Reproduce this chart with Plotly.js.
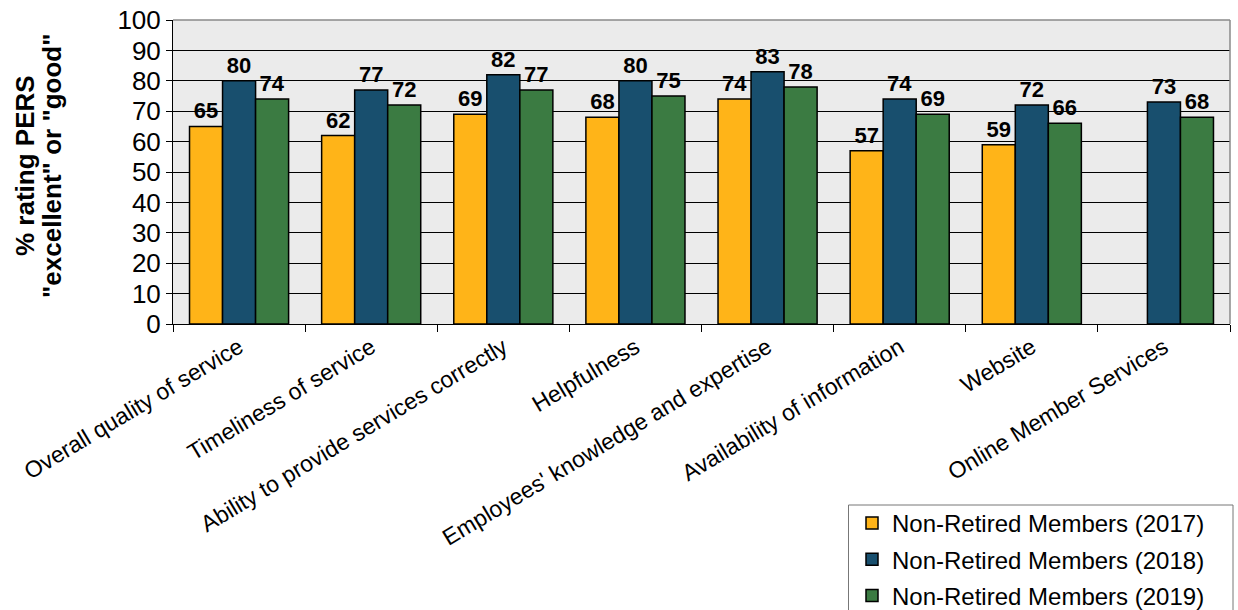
<!DOCTYPE html>
<html>
<head>
<meta charset="utf-8">
<script src="https://cdn.plot.ly/plotly-3.0.1.min.js"></script>
<style>html,body{margin:0;padding:0;background:#fff;}#chart{width:1238px;height:610px;}</style>
</head>
<body>
<div id="chart"></div>
<script>
const categories = [
  "Overall quality of service",
  "Timeliness of service",
  "Ability to provide services correctly",
  "Helpfulness",
  "Employees' knowledge and expertise",
  "Availability of information",
  "Website",
  "Online Member Services"
];
const seriesNames = ["Non-Retired Members (2017)", "Non-Retired Members (2018)", "Non-Retired Members (2019)"];
const values2017 = [65, 62, 69, 68, 74, 57, 59, null];
const values2018 = [80, 77, 82, 80, 83, 74, 72, 73];
const values2019 = [74, 72, 77, 75, 78, 69, 66, 68];
const yTitleLines = ["% rating PERS", "\"excellent\" or \"good\""];
const colors = ["#FFB418", "#184F6E", "#3B7B42"];

const allValues = [values2017, values2018, values2019];
const traces = allValues.map((vals, i) => ({
  type: "bar",
  name: seriesNames[i],
  legendgroup: "g" + i,
  x: categories,
  y: vals,
  text: vals.map(v => v == null ? "" : String(v)),
  textposition: "outside",
  cliponaxis: false,
  textfont: {family: "Liberation Sans, Arial, sans-serif", size: 22, color: "#000"},
  texttemplate: "<b>%{text}</b>",
  marker: {color: colors[i], line: {color: "#000", width: 1.5}},
  hoverinfo: "x+y"
}));

const plotL = 173, plotR = 1230, plotT = 20, plotB = 324;
const pw = plotR - plotL, ph = plotB - plotT;
const px = v => (v - plotL) / pw;
const py = v => (plotB - v) / ph;

const layout = {
  width: 1238, height: 610,
  margin: {l: plotL, r: 1238 - plotR, t: plotT, b: 610 - plotB, autoexpand: false},
  paper_bgcolor: "#fff",
  plot_bgcolor: "#EBEBEB",
  font: {family: "Liberation Sans, Arial, sans-serif", color: "#000"},
  barmode: "group",
  bargap: 0.25,
  bargroupgap: 0,
  showlegend: true,
  legend: {
    x: px(852), xanchor: "left", y: py(501), yanchor: "top",
    bgcolor: "rgba(0,0,0,0)", borderwidth: 0,
    font: {size: 24, color: "#000"},
    itemwidth: 30,
    traceorder: "grouped", tracegroupgap: 2
  },
  xaxis: {
    type: "category",
    tickson: "boundaries",
    ticks: "outside", ticklen: 7, tickcolor: "#000", tickwidth: 1,
    showline: true, linecolor: "#000", linewidth: 1,
    tickangle: -31,
    tickfont: {size: 23, color: "#000"},
    showgrid: false,
    automargin: false
  },
  yaxis: {
    range: [0, 100],
    dtick: 10,
    ticks: "outside", ticklen: 6, tickcolor: "#000",
    showline: true, linecolor: "#000", linewidth: 1,
    showgrid: true, gridcolor: "#000", gridwidth: 1,
    zeroline: false,
    tickfont: {size: 26, color: "#000"},
    automargin: false
  },
  annotations: [
    {text: "<b>" + yTitleLines[0] + "</b>", xref: "paper", yref: "paper",
     x: px(25), y: py(166), xanchor: "center", yanchor: "middle",
     textangle: -90, showarrow: false, font: {size: 26, color: "#000"}},
    {text: "<b>" + yTitleLines[1] + "</b>", xref: "paper", yref: "paper",
     x: px(52), y: py(166), xanchor: "center", yanchor: "middle",
     textangle: -90, showarrow: false, font: {size: 26, color: "#000"}}
  ],
  shapes: [
    {type: "line", xref: "paper", yref: "paper", x0: 0, x1: 1, y0: 1, y1: 1, line: {color: "#8a8a8a", width: 1.5}},
    {type: "line", xref: "paper", yref: "paper", x0: 1, x1: 1, y0: 0, y1: 1, line: {color: "#8a8a8a", width: 1.5}},
    {type: "rect", xref: "paper", yref: "paper", x0: px(848.5), x1: px(1233), y0: py(505), y1: py(620),
     line: {color: "#777", width: 1}, fillcolor: "rgba(0,0,0,0)", layer: "above"}
  ]
};

Plotly.newPlot("chart", traces, layout, {displayModeBar: false, staticPlot: true});
</script>
</body>
</html>
